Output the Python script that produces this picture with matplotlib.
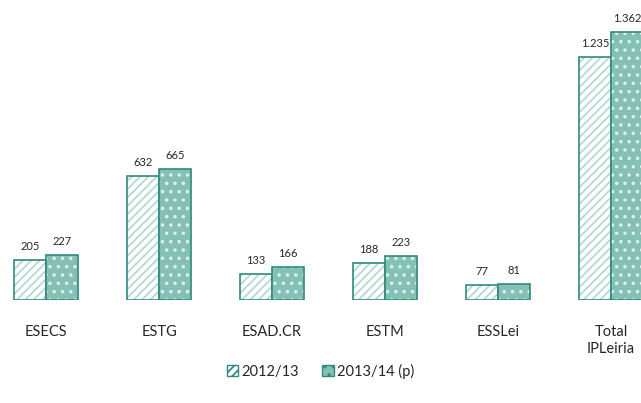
import numpy as np
import matplotlib.pyplot as plt
from matplotlib.patches import Patch

categories = ['ESECS', 'ESTG', 'ESAD.CR', 'ESTM', 'ESSLei', 'Total\nIPLeiria']
vals_2012 = [205, 632, 133, 188, 77, 1235]
vals_2013 = [227, 665, 166, 223, 81, 1362]
series_names = ['2012/13', '2013/14 (p)']

edge = '#2f8a80'
light = '#b5dad3'
fill = '#84c1b4'
text_col = '#262626'
plt.rcParams['font.family'] = ['Lato', 'DejaVu Sans']
plt.rcParams['hatch.linewidth'] = 1.3


def fmt(v):
    return f'{v:,}'.replace(',', '.')


fig = plt.figure(figsize=(6.41, 4.03), dpi=100)
ax = fig.add_axes([0, 103 / 403, 1, 300 / 403])

x = np.arange(len(categories))
w = 0.283

# 2012/13: white with light diagonal hatch
ax.bar(x - w / 2, vals_2012, w, color='white', edgecolor=light, hatch='////', linewidth=0)
ax.bar(x - w / 2, vals_2012, w, color='none', edgecolor=edge, linewidth=1.2)
# 2013/14: teal with white dots
ax.bar(x + w / 2, vals_2013, w, color=fill, edgecolor='#dff0ec', hatch='..', linewidth=0)
ax.bar(x + w / 2, vals_2013, w, color='none', edgecolor=edge, linewidth=1.2)

for xi, v in zip(x, vals_2012):
    ax.text(xi - w / 2, v + 40, fmt(v), ha='center', va='bottom', fontsize=8, color=text_col)
for xi, v in zip(x, vals_2013):
    ax.text(xi + w / 2, v + 40, fmt(v), ha='center', va='bottom', fontsize=8, color=text_col)

ax.set_xlim(-0.407, 5.265)
ax.set_ylim(0, 1525)
ax.set_xticks(x)
ax.set_xticklabels(categories, fontsize=10.5, color=text_col, linespacing=1.25)
ax.tick_params(axis='x', length=0, pad=18)
ax.set_yticks([])
for s in ax.spines.values():
    s.set_visible(False)

h1 = Patch(facecolor='white', edgecolor=edge, hatch='////', linewidth=1)
h2 = Patch(facecolor=fill, edgecolor=edge, hatch='..', linewidth=1)
fig.legend([h1, h2], series_names, loc='center', bbox_to_anchor=(0.5, 1 - 371 / 403),
           ncol=2, frameon=False, fontsize=10.5, handlelength=0.8, handleheight=0.8,
           handletextpad=0.2, columnspacing=1.6, labelcolor=text_col)

fig.savefig('out.png', dpi=100)
